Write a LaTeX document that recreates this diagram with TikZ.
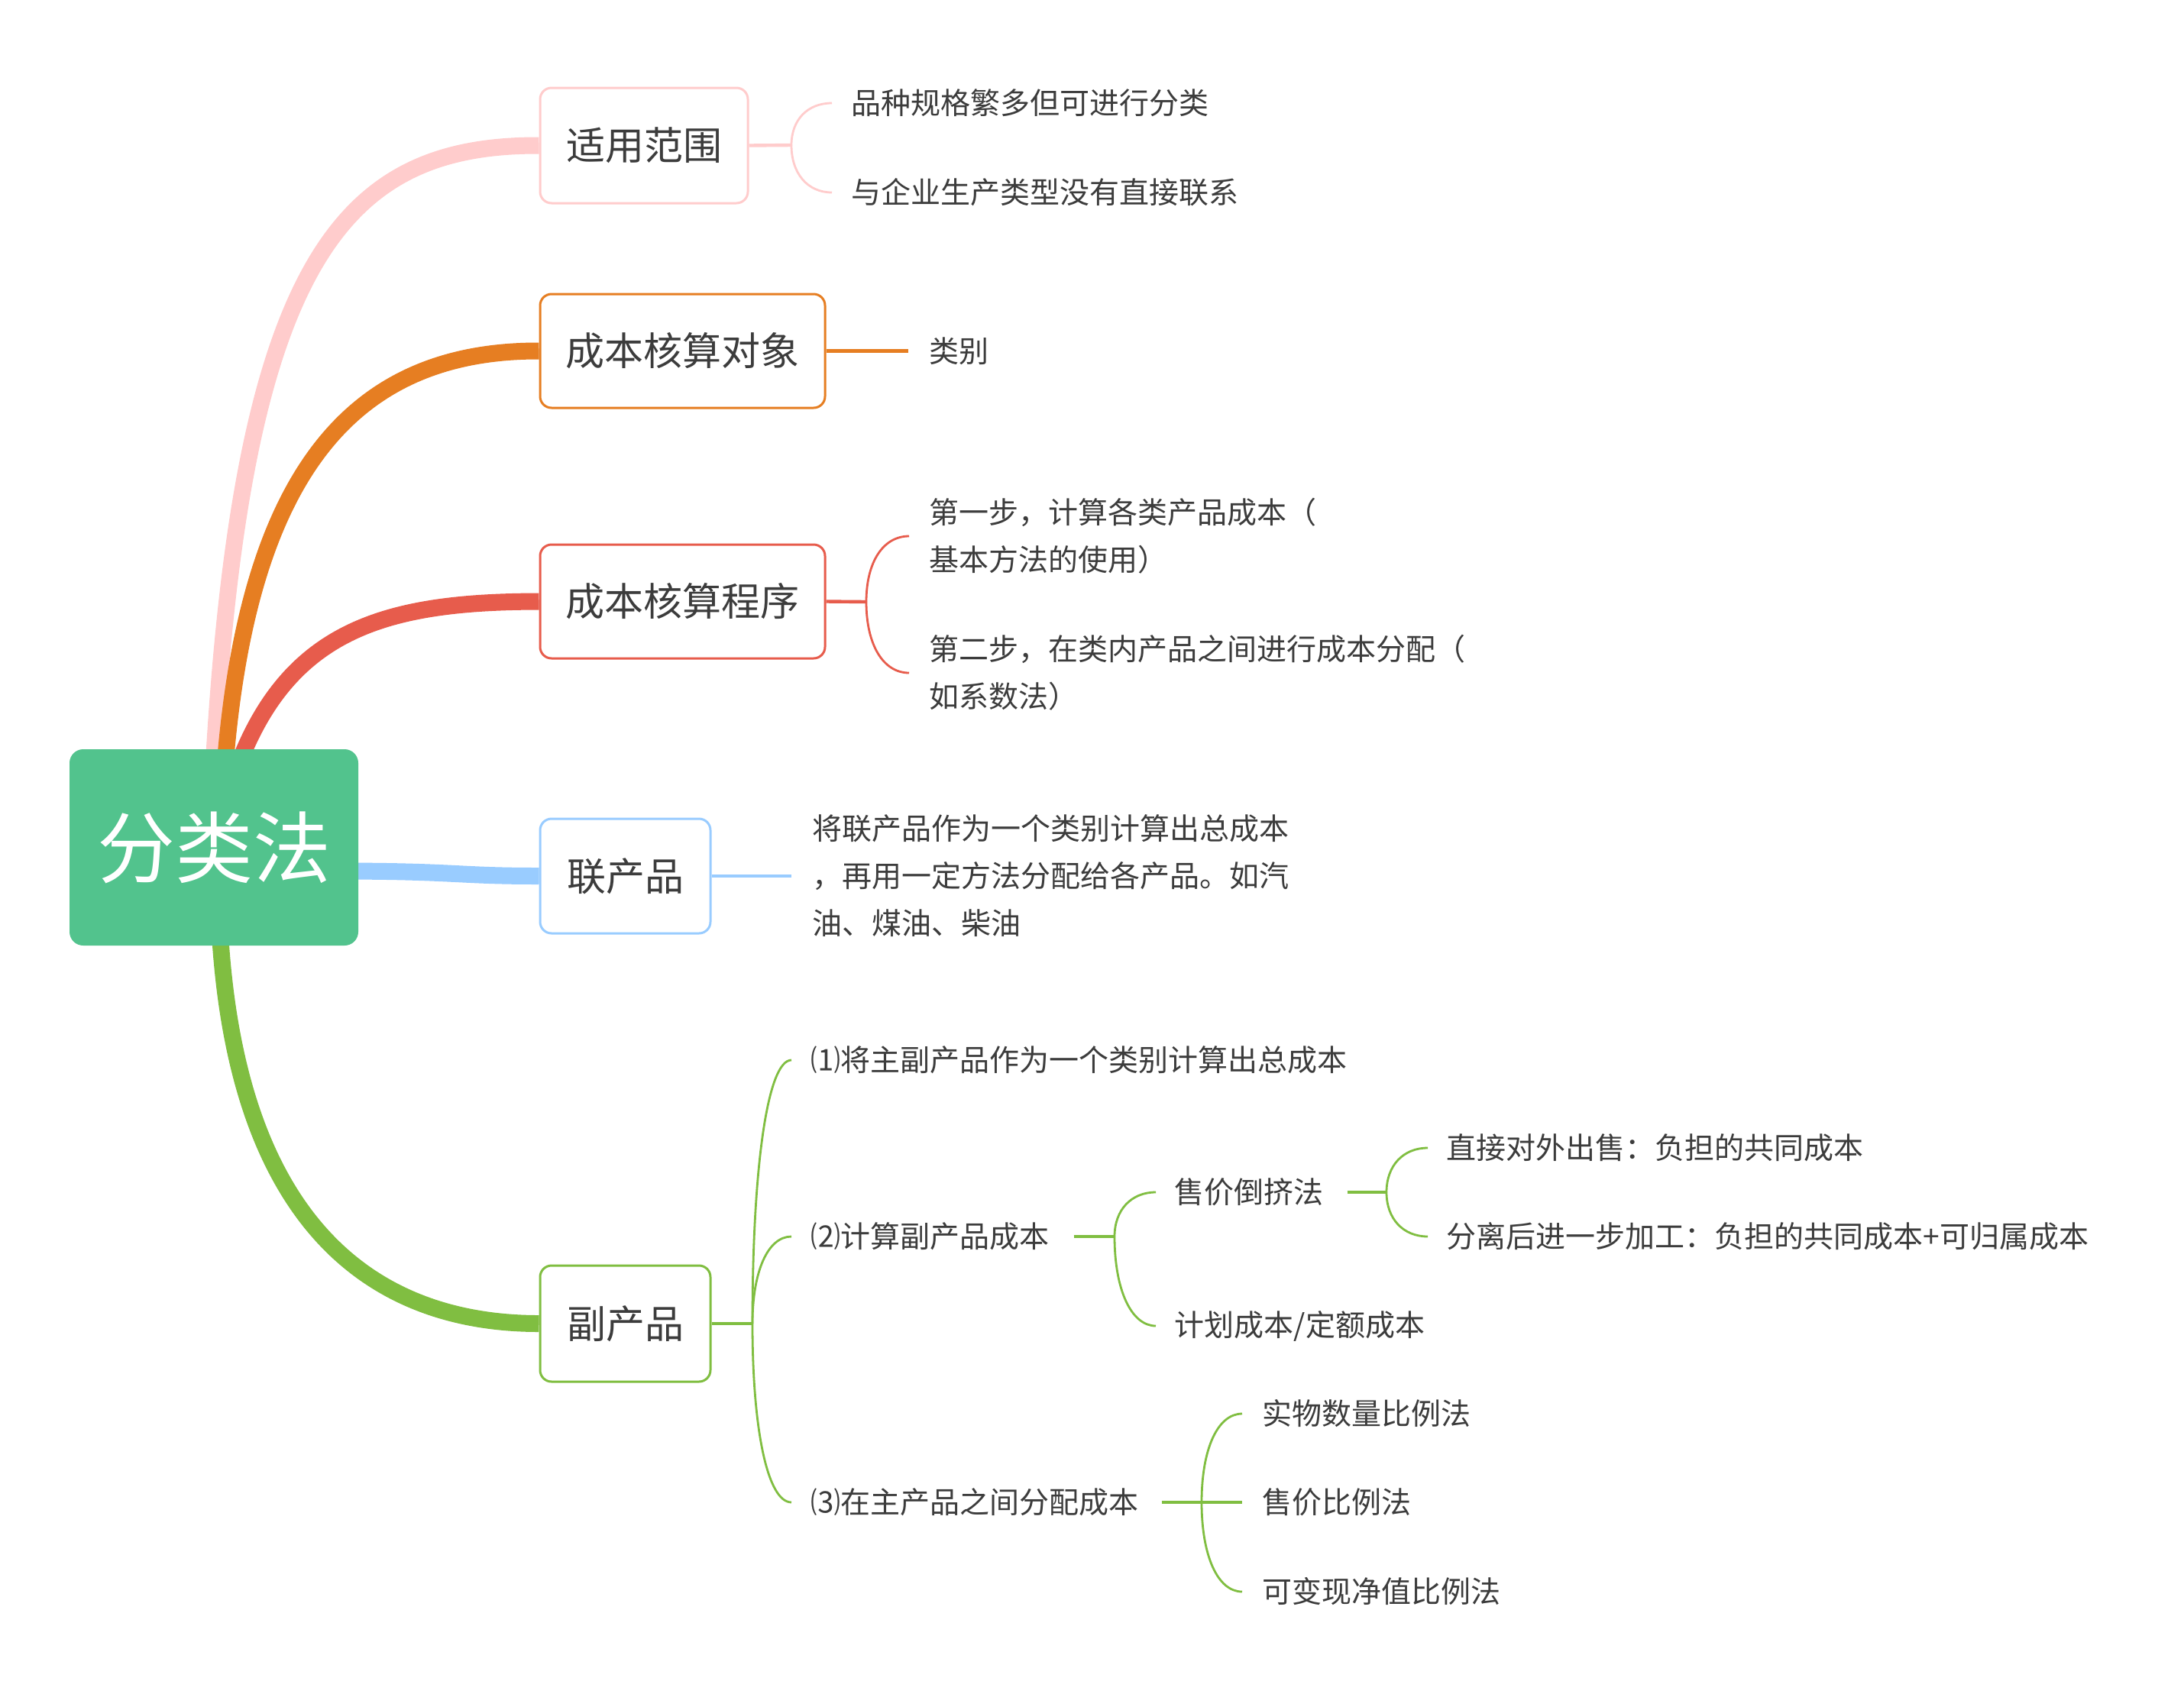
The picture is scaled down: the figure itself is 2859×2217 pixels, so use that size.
\documentclass[tikz,border=0pt]{standalone}
\usepackage{fontspec}
\newfontfamily\cjk{Noto Sans CJK SC}
\usetikzlibrary{backgrounds}
\definecolor{rootgreen}{RGB}{82,195,141}
\definecolor{cpink}{RGB}{255,204,204}
\definecolor{corange}{RGB}{230,126,34}
\definecolor{cred}{RGB}{231,92,76}
\definecolor{cblue}{RGB}{153,204,255}
\definecolor{cgreen}{RGB}{128,190,65}
\definecolor{txt}{RGB}{60,60,60}
\begin{document}
\begin{tikzpicture}[x=0.25pt,y=-0.25pt,
  rootbox/.style={fill=rootgreen, rounded corners=4.5pt, inner sep=0pt, text=white,
    font=\cjk\fontsize{25.5pt}{30pt}\selectfont},
  topic/.style={draw=#1, line width=0.75pt, fill=white, rounded corners=3.75pt, inner sep=0pt,
    text=txt, font=\cjk\fontsize{12.75pt}{15pt}\selectfont},
  leaf/.style={anchor=west, inner sep=0pt, text=txt, align=left,
    font=\cjk\fontsize{9.75pt}{15.5pt}\selectfont},
  mainline/.style={draw=#1, line width=5.5pt},
  stub/.style={draw=#1, line width=1.1pt},
  twig/.style={draw=#1, line width=0.7pt},
]
\useasboundingbox (0,0) rectangle (2859,2217);

% root and topics
\node[rootbox, minimum width=94.5pt, minimum height=64.25pt] (root) at (280,1109.5) {分类法};
\node[topic=cpink, minimum width=68pt, minimum height=37.75pt] (fw) at (843,190.5) {适用范围};
\node[topic=corange, minimum width=93.25pt, minimum height=37.25pt] (dx) at (893.5,459.5) {成本核算对象};
\node[topic=cred, minimum width=93.25pt, minimum height=37.25pt] (cx) at (893.5,787.5) {成本核算程序};
\node[topic=cblue, minimum width=55.75pt, minimum height=37.5pt] (lc) at (818.5,1147) {联产品};
\node[topic=cgreen, minimum width=55.75pt, minimum height=38pt] (fc) at (818.5,1733) {副产品};

% leaves
\node[leaf] (a1) at (1114,135) {品种规格繁多但可进行分类};
\node[leaf] (a2) at (1114,252) {与企业生产类型没有直接联系};
\node[leaf] (b1) at (1216,459.5) {类别};
\node[leaf] (c1) at (1216,702) {第一步，计算各类产品成本（\\基本方法的使用）};
\node[leaf] (c2) at (1216,881) {第二步，在类内产品之间进行成本分配（\\如系数法）};
\node[leaf] (d1) at (1063,1147) {将联产品作为一个类别计算出总成本\\，再用一定方法分配给各产品。如汽\\油、煤油、柴油};
\node[leaf] (e1) at (1061,1388) {⑴将主副产品作为一个类别计算出总成本};
\node[leaf] (e2) at (1061,1619) {⑵计算副产品成本};
\node[leaf] (e3) at (1061,1967) {⑶在主产品之间分配成本};
\node[leaf] (f1) at (1537,1561) {售价倒挤法};
\node[leaf] (f2) at (1537,1736) {计划成本/定额成本};
\node[leaf] (g1) at (1893,1503) {直接对外出售：负担的共同成本};
\node[leaf] (g2) at (1893,1619) {分离后进一步加工：负担的共同成本+可归属成本};
\node[leaf] (h1) at (1652,1851) {实物数量比例法};
\node[leaf] (h2) at (1652,1967) {售价比例法};
\node[leaf] (h3) at (1652,2084) {可变现净值比例法};

% main branches
\begin{scope}[on background layer]
\fill[white] (0,0) rectangle (2859,2217);
\draw[mainline=cpink] ([yshift=-4pt]root.north) .. controls (319,328) and (456,190) .. (fw.west);
\draw[mainline=corange] ([xshift=3.75pt,yshift=-4pt]root.north) .. controls (328,602) and (474,459) .. (dx.west);
\draw[mainline=cred] ([xshift=8.5pt,yshift=-4pt]root.north) .. controls (383,821) and (511,788) .. (cx.west);
\draw[mainline=cblue] ([xshift=-4pt,yshift=-7.75pt]root.east) .. controls (600,1141) and (600,1147) .. (lc.west);
\draw[mainline=cgreen] ([xshift=2pt,yshift=4pt]root.south) .. controls (310,1586) and (474,1733) .. (fc.west);
\end{scope}

% 适用范围
\coordinate (jfw) at (1036,190);
\draw[stub=cpink] (fw.east) -- (jfw);
\draw[twig=cpink] (jfw) .. controls +(0,-33) and +(-32,0) .. ([xshift=-6.25pt]a1.west);
\draw[twig=cpink] (jfw) .. controls +(0,37) and +(-32,0) .. ([xshift=-6.25pt]a2.west);

% 成本核算对象
\draw[stub=corange] (dx.east) -- ([xshift=-6.75pt]b1.west);

% 成本核算程序
\coordinate (jcx) at (1134,788);
\draw[stub=cred] (cx.east) -- (jcx);
\draw[twig=cred] (jcx) .. controls +(0,-52) and +(-34,0) .. ([xshift=-6.5pt]c1.west);
\draw[twig=cred] (jcx) .. controls +(0,56) and +(-34,0) .. ([xshift=-6.5pt]c2.west);

% 联产品
\draw[stub=cblue] (lc.east) -- ([xshift=-6.75pt]d1.west);

% 副产品
\coordinate (jfc) at (985,1733);
\draw[stub=cgreen] (fc.east) -- (jfc);
\draw[twig=cgreen] (jfc) .. controls +(0,-207) and +(-31,0) .. ([xshift=-6.25pt]e1.west);
\draw[twig=cgreen] (jfc) .. controls +(0,-68) and +(-31,0) .. ([xshift=-6.25pt]e2.west);
\draw[twig=cgreen] (jfc) .. controls +(0,140) and +(-31,0) .. ([xshift=-6.25pt]e3.west);

% (2)
\coordinate (je2) at (1459,1619);
\draw[stub=cgreen] ([xshift=7.75pt]e2.east) -- (je2);
\draw[twig=cgreen] (je2) .. controls +(0,-35) and +(-32,0) .. ([xshift=-6pt]f1.west);
\draw[twig=cgreen] (je2) .. controls +(0,70) and +(-32,0) .. ([xshift=-6pt]f2.west);

% 售价倒挤法
\coordinate (jf1) at (1815,1561);
\draw[stub=cgreen] ([xshift=7.5pt]f1.east) -- (jf1);
\draw[twig=cgreen] (jf1) .. controls +(0,-35) and +(-32,0) .. ([xshift=-6pt]g1.west);
\draw[twig=cgreen] (jf1) .. controls +(0,35) and +(-32,0) .. ([xshift=-6pt]g2.west);

% (3)
\coordinate (je3) at (1573,1967);
\draw[stub=cgreen] ([xshift=7.25pt]e3.east) -- (je3);
\draw[twig=cgreen] (je3) .. controls +(0,-70) and +(-32,0) .. ([xshift=-6.5pt]h1.west);
\draw[stub=cgreen] (je3) -- ([xshift=-6.5pt]h2.west);
\draw[twig=cgreen] (je3) .. controls +(0,70) and +(-32,0) .. ([xshift=-6.5pt]h3.west);
\end{tikzpicture}
\end{document}
